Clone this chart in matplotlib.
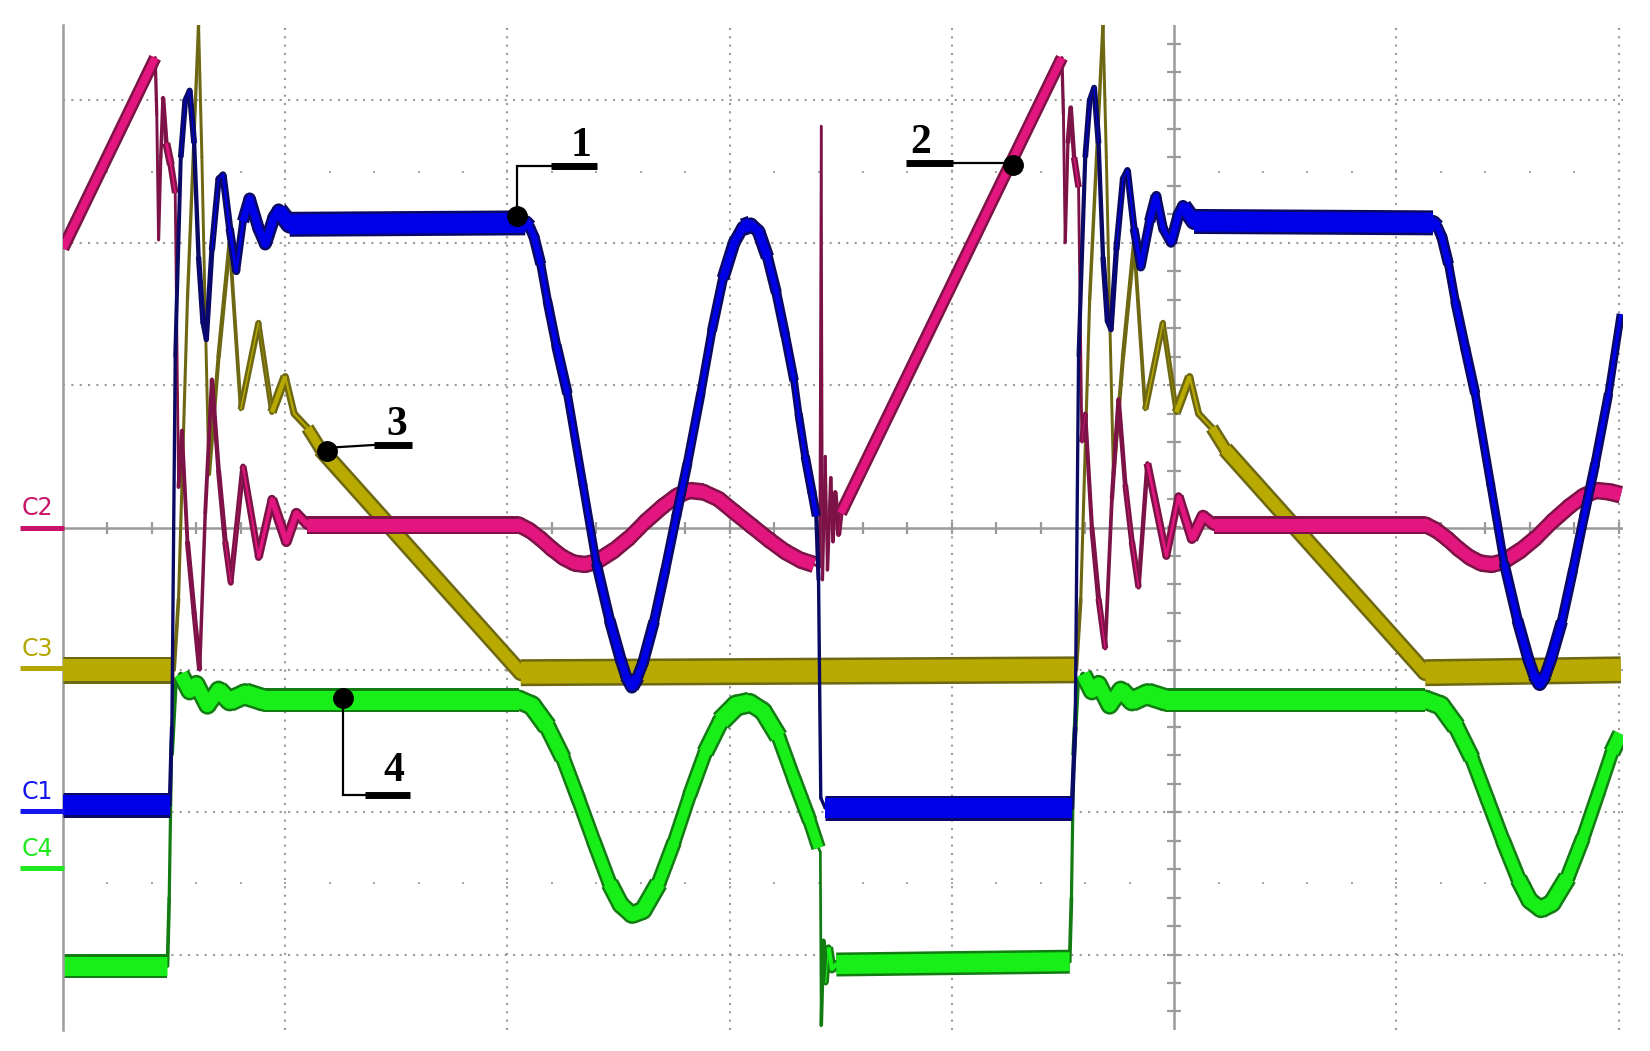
import numpy as np
import matplotlib
matplotlib.use("Agg")
import matplotlib.pyplot as plt
from matplotlib.collections import LineCollection

# scope traces in divisions (time div, volt div)
c1_points = [
    (-5.00, -1.95), (-4.52, -1.95), (-4.51, -1.40), (-4.495, 1.20), (-4.47, 2.60),
    (-4.45, 3.00), (-4.43, 3.07), (-4.41, 2.70), (-4.39, 1.90), (-4.37, 1.44),
    (-4.355, 1.32), (-4.33, 1.95), (-4.30, 2.45), (-4.28, 2.48), (-4.25, 2.10),
    (-4.22, 1.80), (-4.19, 2.15), (-4.16, 2.31), (-4.12, 2.10), (-4.09, 1.99),
    (-4.05, 2.18), (-4.03, 2.23), (-3.98, 2.13), (-2.92, 2.14), (-2.90, 2.11),
    (-2.88, 2.04), (-2.85, 1.85), (-2.82, 1.59), (-2.78, 1.28), (-2.73, 0.94),
    (-2.66, 0.30), (-2.60, -0.25), (-2.54, -0.65), (-2.49, -0.93), (-2.465, -1.05),
    (-2.44, -1.12), (-2.415, -1.05), (-2.39, -0.95), (-2.34, -0.66), (-2.29, -0.30),
    (-2.24, 0.08), (-2.19, 0.45), (-2.13, 0.94), (-2.08, 1.38), (-2.03, 1.75),
    (-1.98, 2.00), (-1.94, 2.11), (-1.905, 2.13), (-1.87, 2.08), (-1.83, 1.90),
    (-1.79, 1.65), (-1.75, 1.35), (-1.71, 1.03), (-1.69, 0.80), (-1.66, 0.50),
    (-1.63, 0.25), (-1.61, 0.08), (-1.60, -0.37), (-1.59, -1.90), (-1.57, -1.97),
    (-0.46, -1.97), (-0.445, -1.40), (-0.43, 1.20), (-0.40, 2.60), (-0.38, 3.00),
    (-0.36, 3.09), (-0.34, 2.70), (-0.32, 1.90), (-0.30, 1.45), (-0.284, 1.39),
    (-0.26, 1.95), (-0.23, 2.45), (-0.21, 2.51), (-0.18, 2.10), (-0.15, 1.83),
    (-0.11, 2.15), (-0.08, 2.33), (-0.05, 2.10), (-0.014, 2.00), (0.02, 2.20),
    (0.04, 2.26), (0.09, 2.15), (1.165, 2.14), (1.185, 2.11), (1.205, 2.04),
    (1.235, 1.85), (1.265, 1.59), (1.31, 1.26), (1.355, 0.94), (1.425, 0.30),
    (1.485, -0.25), (1.545, -0.65), (1.595, -0.93), (1.62, -1.04), (1.645, -1.10),
    (1.67, -1.04), (1.695, -0.93), (1.745, -0.66), (1.795, -0.30), (1.845, 0.08),
    (1.895, 0.45), (1.955, 0.94), (2.01, 1.50),
]

c2_points = [
    (-5.00, 1.96), (-4.585, 3.30), (-4.578, 2.90), (-4.570, 2.02), (-4.560, 2.60),
    (-4.550, 3.02), (-4.535, 2.70), (-4.515, 2.55), (-4.495, 2.35), (-4.480, 0.28),
    (-4.465, 0.68), (-4.440, -0.10), (-4.410, -0.60), (-4.385, -1.00), (-4.360, 0.10),
    (-4.330, 1.04), (-4.300, 0.40), (-4.270, -0.10), (-4.245, -0.39), (-4.190, 0.43),
    (-4.120, -0.21), (-4.060, 0.20), (-3.995, -0.10), (-3.950, 0.10), (-3.900, 0.02),
    (-2.950, 0.02), (-2.900, -0.02), (-2.850, -0.08), (-2.800, -0.15), (-2.750, -0.21),
    (-2.700, -0.25), (-2.650, -0.26), (-2.600, -0.24), (-2.520, -0.16), (-2.450, -0.07),
    (-2.380, 0.04), (-2.300, 0.15), (-2.240, 0.22), (-2.180, 0.26), (-2.120, 0.25),
    (-2.050, 0.20), (-1.980, 0.11), (-1.900, 0.01), (-1.820, -0.09), (-1.750, -0.17),
    (-1.680, -0.23), (-1.620, -0.26), (-1.595, -0.28), (-1.588, 2.82), (-1.582, -0.37),
    (-1.570, 0.50), (-1.560, -0.30), (-1.545, 0.35), (-1.535, -0.10), (-1.525, 0.25),
    (-1.510, -0.05), (-1.500, 0.10), (-0.505, 3.30), (-0.498, 2.90), (-0.490, 2.00),
    (-0.478, 2.70), (-0.465, 2.95), (-0.450, 2.60), (-0.430, 2.39), (-0.415, 0.60),
    (-0.400, 0.80), (-0.370, 0.00), (-0.340, -0.50), (-0.310, -0.85), (-0.280, 0.20),
    (-0.250, 0.90), (-0.220, 0.30), (-0.190, -0.10), (-0.160, -0.42), (-0.120, 0.45),
    (-0.035, -0.20), (0.020, 0.22), (0.080, -0.08), (0.130, 0.08), (0.180, 0.02),
    (1.130, 0.02), (1.180, -0.02), (1.230, -0.08), (1.280, -0.15), (1.330, -0.21),
    (1.380, -0.25), (1.430, -0.26), (1.480, -0.24), (1.560, -0.16), (1.630, -0.07),
    (1.700, 0.04), (1.780, 0.15), (1.840, 0.22), (1.900, 0.26), (1.960, 0.25),
    (2.010, 0.23),
]

c3_points = [
    (-5.00, -1.00), (-4.500, -1.00), (-4.480, -0.50), (-4.440, 1.60), (-4.390, 3.53),
    (-4.375, 2.60), (-4.360, 1.50), (-4.343, 0.37), (-4.300, 1.20), (-4.250, 2.00),
    (-4.200, 0.83), (-4.120, 1.44), (-4.060, 0.81), (-4.000, 1.06), (-3.960, 0.80),
    (-3.900, 0.70), (-3.840, 0.55), (-2.940, -1.02), (-0.440, -1.00), (-0.420, -0.50),
    (-0.380, 1.60), (-0.320, 3.53), (-0.305, 2.60), (-0.290, 1.50), (-0.273, 0.37),
    (-0.230, 1.20), (-0.180, 2.00), (-0.130, 0.83), (-0.050, 1.44), (0.010, 0.81),
    (0.070, 1.06), (0.110, 0.80), (0.170, 0.70), (0.230, 0.55), (1.130, -1.02),
    (2.010, -1.00),
]

c4_points = [
    (-5.00, -3.08), (-4.530, -3.08), (-4.522, -2.60), (-4.512, -1.60), (-4.495, -1.10),
    (-4.470, -1.03), (-4.430, -1.15), (-4.400, -1.10), (-4.350, -1.25), (-4.300, -1.14),
    (-4.250, -1.22), (-4.180, -1.17), (-4.100, -1.21), (-2.950, -1.21), (-2.890, -1.25),
    (-2.820, -1.40), (-2.750, -1.62), (-2.680, -1.91), (-2.610, -2.21), (-2.540, -2.50),
    (-2.490, -2.65), (-2.440, -2.72), (-2.390, -2.69), (-2.320, -2.50), (-2.250, -2.21),
    (-2.180, -1.88), (-2.110, -1.58), (-2.040, -1.36), (-1.970, -1.25), (-1.910, -1.23),
    (-1.850, -1.29), (-1.780, -1.47), (-1.710, -1.77), (-1.640, -2.06), (-1.600, -2.25),
    (-1.592, -2.28), (-1.588, -3.50), (-1.578, -2.90), (-1.568, -3.20), (-1.555, -2.95),
    (-1.540, -3.10), (-1.520, -3.07), (-0.470, -3.05), (-0.462, -2.60), (-0.452, -1.60),
    (-0.435, -1.10), (-0.410, -1.03), (-0.370, -1.15), (-0.340, -1.10), (-0.290, -1.25),
    (-0.240, -1.14), (-0.190, -1.22), (-0.120, -1.17), (-0.040, -1.21), (1.130, -1.21),
    (1.200, -1.25), (1.270, -1.40), (1.340, -1.62), (1.410, -1.91), (1.480, -2.20),
    (1.550, -2.47), (1.600, -2.62), (1.650, -2.68), (1.700, -2.64), (1.770, -2.46),
    (1.840, -2.18), (1.910, -1.86), (1.970, -1.58), (2.010, -1.45),
]

# channel ground markers on the left edge
channel_names = ["C2", "C3", "C1", "C4"]
channel_levels = [0.0, -0.99, -1.99, -2.39]
channel_colors = ["#c8126a", "#b4a600", "#1414ee", "#1ee81e"]

# numbered callouts: dot, leader path, label
callout_labels = ["1", "2", "3", "4"]
callout_dots = [(-2.955, 2.19), (-0.725, 2.55), (-3.81, 0.54), (-3.74, -1.20)]
callout_paths = [
    [(-2.955, 2.19), (-2.955, 2.54), (-2.806, 2.54)],
    [(-0.725, 2.56), (-0.995, 2.56)],
    [(-3.81, 0.56), (-3.60, 0.58)],
    [(-3.74, -1.20), (-3.74, -1.88), (-3.64, -1.88)],
]
callout_bars = [
    [(-2.806, 2.54), (-2.595, 2.54)],
    [(-1.207, 2.56), (-0.995, 2.56)],
    [(-3.60, 0.58), (-3.43, 0.58)],
    [(-3.64, -1.88), (-3.44, -1.88)],
]
callout_text_pos = [(-2.67, 2.61), (-1.14, 2.63), (-3.50, 0.65), (-3.51, -1.78)]

fig = plt.figure(figsize=(16.5, 10.51), dpi=100)
ax = fig.add_axes([63 / 1650, 21 / 1051, 1560 / 1650, 1005 / 1051])
ax.set_xlim(-5, 2.02)
ax.set_ylim(-3.53, 3.53)
ax.set_xticks([])
ax.set_yticks([])
for side in ["top", "right", "bottom"]:
    ax.spines[side].set_visible(False)
ax.spines["left"].set_color("#9c9c9c")
ax.spines["left"].set_linewidth(1.8)

PX = 72 / fig.dpi
grid_col = "#9a9a9a"

# graticule
for x in [-4, -3, -2, -1, 1, 2]:
    ax.axvline(x, color=grid_col, lw=1.5, ls=(0, (1, 3)), zorder=1)
for y in [-3, -2, -1, 1, 2, 3]:
    ax.axhline(y, color=grid_col, lw=1.5, ls=(0, (1, 3)), zorder=1)
ax.axhline(0, color=grid_col, lw=1.8, zorder=1)
ax.axvline(0, color=grid_col, lw=1.8, zorder=1)
tx = np.arange(-4.8, 2.01, 0.2)
ax.plot(tx, np.zeros_like(tx), ls="none", marker="|", ms=9, mew=1.6, color=grid_col, zorder=1)
ty = np.arange(-3.4, 3.41, 0.2)
ax.plot(np.zeros_like(ty), ty, ls="none", marker="_", ms=10, mew=1.6, color=grid_col, zorder=1)
dx = np.array([v for v in np.arange(-4.8, 1.9, 0.2) if abs(v) > 0.05])
for y in [2.5, -2.5]:
    ax.plot(dx, np.full_like(dx, y), ls="none", marker="s", ms=1.6, mew=0, color="#a8a8a8", zorder=1)


def draw_trace(points, fill, edge, band_px, thin_px, k, z):
    """Noise band that thins out on fast edges, dark rim and bright core."""
    xy = np.array(points, dtype=float)
    pix = ax.transData.transform(xy)
    d = np.abs(np.diff(pix, axis=0))
    slope = d[:, 1] / np.maximum(d[:, 0], 1e-6)
    w = thin_px + (band_px - thin_px) / np.sqrt(1 + (slope / k) ** 2)
    # short flat bits between fast swings stay thin
    seg_len = np.hypot(d[:, 0], d[:, 1])
    wp = np.concatenate([[w[0]], w, [w[-1]]])
    w = np.where(seg_len < 20, np.minimum(np.minimum(wp[:-2], wp[1:-1]), wp[2:]), w)
    segs = np.stack([xy[:-1], xy[1:]], axis=1)
    for widths, col, zz in [(w, edge, z), (np.maximum(w - 5, 0), fill, z + 0.1)]:
        ax.add_collection(LineCollection(segs, linewidths=widths * PX, colors=col,
                                         capstyle="butt", zorder=zz))
        joint = np.minimum(widths[:-1], widths[1:])
        ax.scatter(xy[1:-1, 0], xy[1:-1, 1], s=(joint * PX) ** 2, color=col,
                   linewidths=0, zorder=zz)


draw_trace(c4_points, "#18ee18", "#127c12", 24, 2.5, 2.1, 2)
draw_trace(c3_points, "#b8aa00", "#6e6812", 27, 2.5, 0.8, 3)
draw_trace(c2_points, "#e2167e", "#7c1246", 18, 2.5, 1.8, 4)
draw_trace(c1_points, "#0000e8", "#0a0a66", 25, 3.0, 1.6, 5)

# channel markers and names
for name, lvl, col in zip(channel_names, channel_levels, channel_colors):
    ax.plot([-5.195, -4.997], [lvl, lvl], color=col, lw=3.6, clip_on=False,
            solid_capstyle="butt", zorder=6)
    ax.text(-5.185, lvl + 0.085, name, color=col, fontsize=17, family="DejaVu Sans",
            ha="left", va="baseline", clip_on=False)

# callouts
for lab, dot, path, bar, pos in zip(callout_labels, callout_dots, callout_paths,
                                    callout_bars, callout_text_pos):
    px_, py_ = zip(*path)
    ax.plot(px_, py_, color="black", lw=1.6, zorder=7, solid_joinstyle="miter")
    bx, by = zip(*bar)
    ax.plot(bx, by, color="black", lw=5, zorder=7, solid_capstyle="butt")
    ax.plot([dot[0]], [dot[1]], marker="o", ms=14, color="black", zorder=8)
    ax.text(pos[0], pos[1], lab, fontsize=30, fontweight="bold",
            family="Liberation Serif", ha="center", va="baseline", zorder=8)

fig.savefig("out.png", dpi=100, facecolor="white")
